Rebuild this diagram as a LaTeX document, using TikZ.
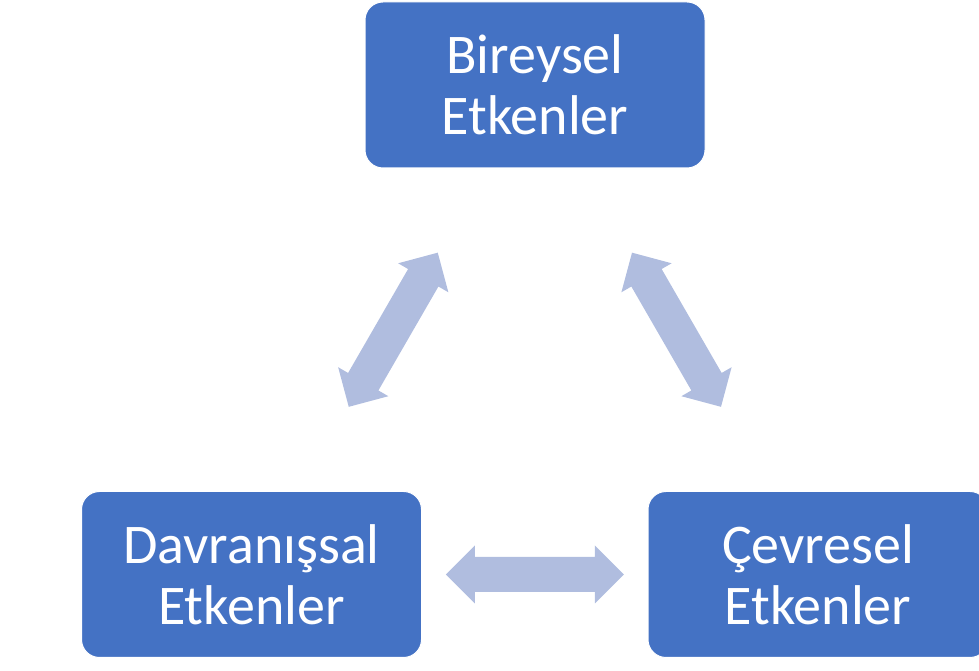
\documentclass[tikz,border=0pt]{standalone}
\usepackage{fontspec}
\setmainfont{Carlito}
\definecolor{boxblue}{RGB}{68,114,196}
\definecolor{arrowblue}{RGB}{176,189,223}
\tikzset{
  factor/.style={draw=white, line width=1pt, fill=boxblue, rounded corners=18pt,
    minimum width=340pt, minimum height=166pt, text=white, align=center,
    font=\fontsize{56}{61}\selectfont, inner sep=0pt},
  blockarrow/.style={fill=arrowblue, draw=none}
}
% #1 centre coordinate, #2 angle, #3 half length
\newcommand\dblblockarrow[3]{%
  \begin{scope}[shift={(#1)}, rotate=#2]
    \fill[blockarrow] (-#3,0) -- ({-#3+29},29) -- ({-#3+29},17.5) -- ({#3-29},17.5)
      -- ({#3-29},29) -- (#3,0) -- ({#3-29},-29) -- ({#3-29},-17.5)
      -- ({-#3+29},-17.5) -- ({-#3+29},-29) -- cycle;
  \end{scope}}
\begin{document}
\begin{tikzpicture}[x=1pt,y=1pt]
  \useasboundingbox (0,0) rectangle (979,671);
  \clip (0,0) rectangle (979,671);
  \node[factor] (bir) at (535,586) {Bireysel\\Etkenler};
  \node[factor] (dav) at (251.5,96.5) {Davranışsal\\Etkenler};
  \node[factor] (cev) at (818,96.5) {Çevresel\\Etkenler};
  \path (dav.center) -- (bir.center) coordinate[midway] (m1);
  \path (cev.center) -- (bir.center) coordinate[midway] (m2);
  \path (dav.center) -- (cev.center) coordinate[midway] (m3);
  \dblblockarrow{m1}{60}{89}
  \dblblockarrow{m2}{120}{89}
  \dblblockarrow{m3}{0}{89}
\end{tikzpicture}
\end{document}
